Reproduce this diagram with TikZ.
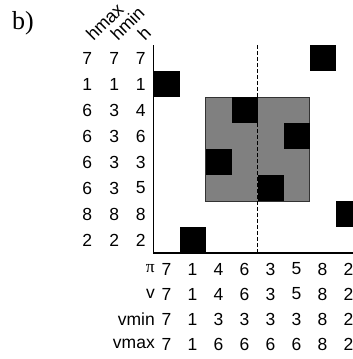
\documentclass[tikz,border=0pt]{standalone}
\usepackage{fontspec}
\setmainfont{Liberation Sans}
\newfontfamily\seriffont{Liberation Serif}
\begin{document}
\begin{tikzpicture}[x=1pt,y=-1pt,
  lbl/.style={font=\fontsize{17.5}{19}\selectfont, inner sep=0pt, anchor=center},
  rowname/.style={font=\fontsize{17.5}{19}\selectfont, inner sep=0pt, anchor=east},
  head/.style={font=\fontsize{18}{20}\selectfont, inner sep=0pt, anchor=base west, rotate=45},
  blk/.style={fill=black},
]
\useasboundingbox (0,0) rectangle (353,359);
\clip (0,0) rectangle (353,359);
% panel label
\node[font=\fontsize{26}{28}\selectfont\seriffont, inner sep=0pt, anchor=base west] (panel) at (12,29.5) {b)};
% headers
\node[head] (hhmax) at (93.5,42) {hmax};
\node[head] (hhmin) at (118,42) {hmin};
\node[head] (hh) at (145,42) {h};
% gray region
\fill[fill=black!50] (205.5,97) rectangle (309.5,201);
\draw[black!80, line width=0.7pt] (205.5,97) rectangle (309.5,201);
% black squares (row, col)
\foreach \r/\c in {1/7,2/1,3/4,4/6,5/3,6/5,7/8,8/2}{
  \fill[blk] ({153.5+26*(\c-1)},{45+26*(\r-1)}) rectangle ++(26,26);
}
% dashed line
\coordinate (dtop) at (257.5,45);
\coordinate (dbot) at (257.5,253);
\draw[line width=0.8pt, dash pattern=on 4pt off 2pt] (dtop) -- (dbot);
% axes
\coordinate (ytop) at (153.5,45);
\coordinate (orig) at (153.5,253);
\coordinate (xend) at (360,253);
\draw[line width=1pt] (ytop) -- (orig);
\draw[line width=1.5pt] (153,253) -- (xend);
% left columns
\foreach \a/\b/\c [count=\j] in {7/7/7,1/1/1,6/3/4,6/3/6,6/3/3,6/3/5,8/8/8,2/2/2}{
  \node[lbl] (hmax\j) at (87.3,{58+26*(\j-1)}) {\a};
  \node[lbl] (hmin\j) at (114.3,{58+26*(\j-1)}) {\b};
  \node[lbl] (h\j) at (140.8,{58+26*(\j-1)}) {\c};
}
% bottom rows
\node[rowname] (npi) at (155,269) {\seriffont π};
\node[rowname] (nv) at (155,294) {v};
\node[rowname] (nvmin) at (155,319) {vmin};
\node[rowname] (nvmax) at (155,344) {vmax};
\foreach \p/\q/\s/\t [count=\i] in {7/7/7/7,1/1/1/1,4/4/3/6,6/6/3/6,3/3/3/6,5/5/3/6,8/8/8/8,2/2/2/2}{
  \node[lbl] (pi\i) at ({166.5+26*(\i-1)},269) {\p};
  \node[lbl] (v\i) at ({166.5+26*(\i-1)},294) {\q};
  \node[lbl] (vmin\i) at ({166.5+26*(\i-1)},319) {\s};
  \node[lbl] (vmax\i) at ({166.5+26*(\i-1)},344) {\t};
}
\end{tikzpicture}
\end{document}
